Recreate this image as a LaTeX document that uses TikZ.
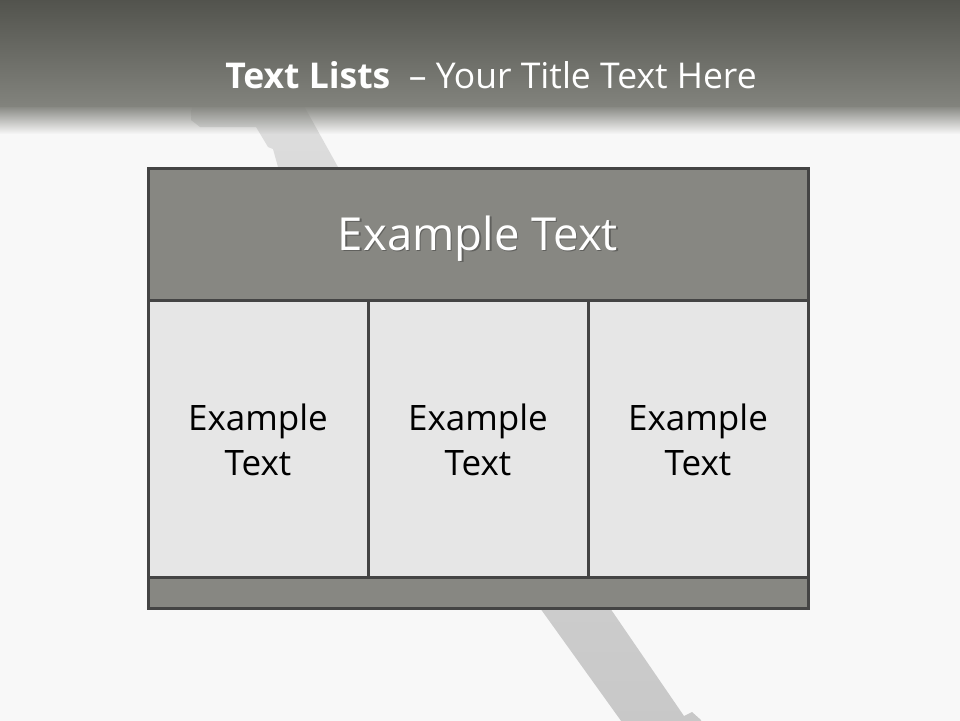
\documentclass[tikz,border=0pt]{standalone}
\usepackage{fontspec}
\setmainfont{Open Sans}
\usetikzlibrary{fadings}
\definecolor{bg}{HTML}{F8F8F8}
\definecolor{hdrTop}{HTML}{50514B}
\definecolor{hdrMid}{HTML}{82837D}
\definecolor{barTop}{HTML}{DDDDDD}
\definecolor{barBot}{HTML}{C8C8C8}
\definecolor{darkfill}{HTML}{878782}
\definecolor{lightfill}{HTML}{E6E6E6}
\definecolor{frame}{HTML}{444444}
\definecolor{shadowc}{HTML}{3A3A3A}
\tikzset{
  darkcell/.style={draw=frame, line width=3pt, fill=darkfill, inner sep=0pt},
  lightcell/.style={draw=frame, line width=3pt, fill=lightfill, inner sep=0pt},
  celltext/.style={text=black, font=\fontsize{35}{45}\selectfont, align=center, inner sep=0pt},
  hdrtext/.style={text=white, font=\fontsize{45.5}{50}\selectfont, inner sep=0pt, anchor=base},
  hdrshadow/.style={text=shadowc, opacity=0.5, font=\fontsize{45.5}{50}\selectfont, inner sep=0pt, anchor=base},
  titletext/.style={text=white, font=\fontsize{35.5}{40}\selectfont, inner sep=0pt, anchor=base},
}
\begin{document}
\begin{tikzpicture}[x=1pt,y=-1pt]
\useasboundingbox (0,0) rectangle (960,720);
\fill[bg] (-5,-5) rectangle (965,725);
% diagonal bar in the background
\shade[top color=barTop, bottom color=barBot]
  (192,106) -- (304,106) -- (338,167) -- (610,608) -- (684,716)
  -- (692,712) -- (701,720) -- (701,725)
  -- (624,725) -- (540,608) -- (278,167) -- (273,149) -- (268,147)
  -- (256,127) -- (200,127) -- (191,120) -- cycle;
% header band
\shade[top color=hdrTop, bottom color=hdrMid] (-5,-5) rectangle (965,106);
\fill[hdrMid, path fading=south] (-5,105) rectangle (965,134);
% title
\node[titletext] (title) at (491,88) {\textbf{Text Lists}\ \ – Your Title Text Here};
% table
\node[darkcell, minimum width=660, minimum height=132] (hdr) at (478,234) {};
\node[lightcell, minimum width=220, minimum height=277] (c1) at (258,438.5) {};
\node[lightcell, minimum width=220, minimum height=277] (c2) at (478,438.5) {};
\node[lightcell, minimum width=220, minimum height=277] (c3) at (698,438.5) {};
\node[darkcell, minimum width=660, minimum height=31] (foot) at (478,592.5) {};
\node[hdrshadow] at (479.5,251.5) {Example Text};
\node[hdrtext] (hdrlabel) at (478,250) {Example Text};
\node[celltext] (t1) at ([yshift=-1]c1.center) {Example\\Text};
\node[celltext] (t2) at ([yshift=-1]c2.center) {Example\\Text};
\node[celltext] (t3) at ([yshift=-1]c3.center) {Example\\Text};
\end{tikzpicture}
\end{document}
